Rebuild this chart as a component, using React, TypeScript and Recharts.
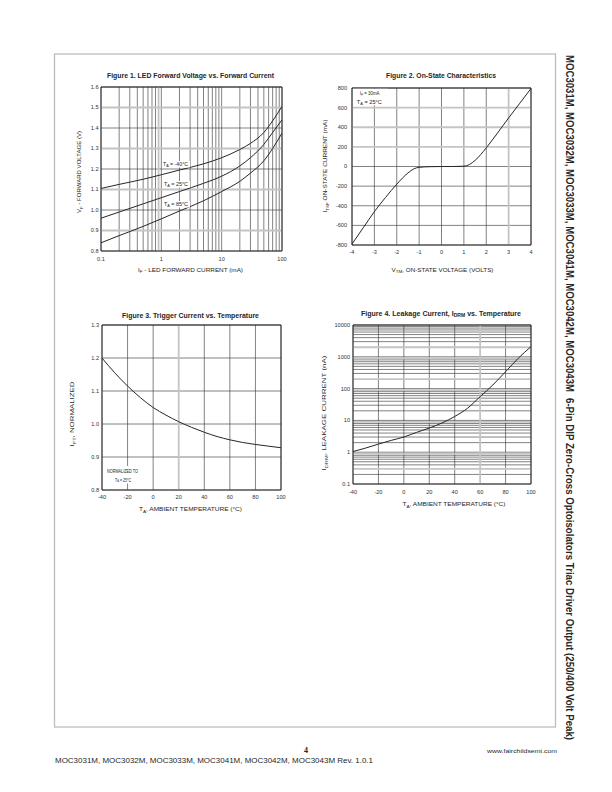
import React from 'react';
import { LineChart, Line, XAxis, YAxis, ReferenceLine } from 'recharts';

const FONT = '"Liberation Sans", Arial, Helvetica, sans-serif';
const INK = '#262626';
const GRID_DARK = '#3e3e3e';
const GRID_GRAY = '#c4c4c4';

// Figure 1: LED forward voltage vs. forward current (mA -> V)
const fig1Current = [0.1, 0.2, 0.5, 1, 2, 5, 10, 20, 30, 50, 70, 100];
const fig1VfCold = [1.105, 1.125, 1.15, 1.172, 1.195, 1.225, 1.255, 1.295, 1.325, 1.378, 1.435, 1.505];
const fig1VfRoom = [0.96, 0.99, 1.03, 1.06, 1.09, 1.13, 1.165, 1.215, 1.255, 1.32, 1.378, 1.44];
const fig1VfHot = [0.84, 0.875, 0.92, 0.957, 0.995, 1.045, 1.09, 1.14, 1.18, 1.24, 1.3, 1.375];
const fig1XTicks = [0.1, 1, 10, 100];
const fig1YTicks = [0.8, 0.9, 1.0, 1.1, 1.2, 1.3, 1.4, 1.5, 1.6];

// Figure 2: on-state characteristics (V -> mA)
const fig2Voltage = [-4, -3.5, -3, -2.5, -2, -1.5, -1.25, -1, -0.5, 0, 0.5, 1, 1.25, 1.5, 2, 2.5, 3, 3.5, 4];
const fig2Current = [-790, -625, -460, -315, -180, -66, -26, -8, -2, 0, 0, 3, 20, 62, 190, 340, 495, 645, 795];
const fig2XTicks = [-4, -3, -2, -1, 0, 1, 2, 3, 4];
const fig2YTicks = [-800, -600, -400, -200, 0, 200, 400, 600, 800];

// Figure 3: trigger current vs. temperature
const fig3Temp = [-40, -30, -20, -10, 0, 10, 20, 30, 40, 50, 60, 70, 80, 90, 100];
const fig3Ift = [1.2, 1.155, 1.115, 1.08, 1.05, 1.027, 1.007, 0.99, 0.975, 0.962, 0.952, 0.944, 0.938, 0.933, 0.928];
const fig3XTicks = [-40, -20, 0, 20, 40, 60, 80, 100];
const fig3YTicks = [0.8, 0.9, 1.0, 1.1, 1.2, 1.3];

// Figure 4: leakage current vs. temperature (nA)
const fig4Temp = [-40, -30, -20, -10, 0, 10, 20, 30, 40, 50, 60, 70, 80, 90, 100];
const fig4Idrm = [1.05, 1.35, 1.8, 2.35, 3.0, 4.2, 5.75, 8.3, 13.3, 24, 56, 130, 340, 900, 2100];
const fig4XTicks = [-40, -20, 0, 20, 40, 60, 80, 100];
const fig4YTicks = [0.1, 1, 10, 100, 1000, 10000];

const fig1Data = fig1Current.map((x, i) => ({ x, cold: fig1VfCold[i], room: fig1VfRoom[i], hot: fig1VfHot[i] }));
const fig2Data = fig2Voltage.map((x, i) => ({ x, y: fig2Current[i] }));
const fig3Data = fig3Temp.map((x, i) => ({ x, y: fig3Ift[i] }));
const fig4Data = fig4Temp.map((x, i) => ({ x, y: fig4Idrm[i] }));

// minor grid values for log axes: 1..9 per decade
const logGrid = (lo: number, hi: number) => {
  const out: number[] = [];
  for (let d = lo; d < hi; d *= 10) for (let m = 1; m < 10; m++) out.push(Number((m * d).toPrecision(2)));
  out.push(hi);
  return out;
};

type Plot = { l: number; r: number; t: number; b: number };
const PAD = { left: 40, top: 30, right: 20, bottom: 30 };

function grid(xs: number[], ys: number[], grayXs: number[] = [], grayYs: number[] = []) {
  const out: React.ReactElement[] = [];
  xs.filter((v) => !grayXs.includes(v)).forEach((v) =>
    out.push(<ReferenceLine key={`x${v}`} x={v} stroke={GRID_DARK} strokeWidth={0.65} />));
  ys.filter((v) => !grayYs.includes(v)).forEach((v) =>
    out.push(<ReferenceLine key={`y${v}`} y={v} stroke={GRID_DARK} strokeWidth={0.65} />));
  grayXs.forEach((v) => out.push(<ReferenceLine key={`gx${v}`} x={v} stroke={GRID_GRAY} strokeWidth={1.8} />));
  grayYs.forEach((v) => out.push(<ReferenceLine key={`gy${v}`} y={v} stroke={GRID_GRAY} strokeWidth={1.8} />));
  return out;
}

function border(x: [number, number], y: [number, number]) {
  return [
    <ReferenceLine key="bl" x={x[0]} stroke={INK} strokeWidth={0.9} />,
    <ReferenceLine key="br" x={x[1]} stroke={INK} strokeWidth={0.9} />,
    <ReferenceLine key="bb" y={y[0]} stroke={INK} strokeWidth={0.9} />,
    <ReferenceLine key="bt" y={y[1]} stroke={INK} strokeWidth={1.1} />,
  ];
}

const tick = { fontSize: 5.6, fill: '#333', fontFamily: FONT };

function Box({ plot, data, children }: { plot: Plot; data: any[]; children: React.ReactNode }) {
  const width = plot.r - plot.l + PAD.left + PAD.right;
  const height = plot.b - plot.t + PAD.top + PAD.bottom;
  return (
    <div style={{ position: 'absolute', left: plot.l - PAD.left, top: plot.t - PAD.top }}>
      <LineChart width={width} height={height} data={data} margin={{ top: PAD.top, right: PAD.right, bottom: 0, left: 0 }}>
        {children}
      </LineChart>
    </div>
  );
}

const P1: Plot = { l: 101, r: 282, t: 87, b: 251 };
const P2: Plot = { l: 352, r: 531, t: 88, b: 245 };
const P3: Plot = { l: 102, r: 281, t: 325, b: 490 };
const P4: Plot = { l: 353, r: 531, t: 325, b: 484 };

const fmt1 = (v: number) => v.toFixed(1);
const fmtPlain = (v: number) => String(v);

function T({ x, y, size, w, bold, rot, anchor = 'middle', family = FONT, children }: any) {
  return (
    <text
      x={x}
      y={y}
      fontSize={size}
      fontWeight={bold ? 'bold' : 'normal'}
      textAnchor={anchor}
      dominantBaseline="central"
      textLength={w}
      lengthAdjust={w ? 'spacingAndGlyphs' : undefined}
      transform={rot ? `rotate(${rot} ${x} ${y})` : undefined}
      fill={INK}
      fontFamily={family}
    >
      {children}
    </text>
  );
}

// text with one subscript: main + sub + rest
const sub = (size: number, main: string, s: string, rest: string) => [
  <tspan key="a">{main}</tspan>,
  <tspan key="b" fontSize={size * 0.72} dy={size * 0.3}>{s}</tspan>,
  <tspan key="c" dy={-size * 0.3}>{rest}</tspan>,
];

const BANNER_FONT = '"Liberation Sans Narrow", "Arial Narrow", "Liberation Sans", Arial, sans-serif';

export default function App() {
  return (
    <div style={{ position: 'absolute', left: 0, top: 0, width: 612, height: 792, background: '#fff' }}>
      <Box plot={P1} data={fig1Data}>
        <XAxis dataKey="x" type="number" scale="log" domain={[0.1, 100]} ticks={fig1XTicks} interval={0}
          allowDataOverflow tickLine={false} axisLine={false} tickSize={6.3} tickMargin={0} height={PAD.bottom}
          tick={tick} tickFormatter={fmtPlain} />
        <YAxis type="number" domain={[0.8, 1.6]} ticks={fig1YTicks} interval={0} allowDataOverflow
          tickLine={false} axisLine={false} tickSize={2.5} tickMargin={0} width={PAD.left} tick={tick} tickFormatter={fmt1} />
        {grid(logGrid(0.1, 100), fig1YTicks, [0.9], [1.5, 1.3, 1.1, 0.9])}
        {border([0.1, 100], [0.8, 1.6])}
        <Line dataKey="cold" type="monotone" stroke={INK} strokeWidth={1} dot={false} isAnimationActive={false} />
        <Line dataKey="room" type="monotone" stroke={INK} strokeWidth={1} dot={false} isAnimationActive={false} />
        <Line dataKey="hot" type="monotone" stroke={INK} strokeWidth={1} dot={false} isAnimationActive={false} />
      </Box>

      <Box plot={P2} data={fig2Data}>
        <XAxis dataKey="x" type="number" domain={[-4, 4]} ticks={fig2XTicks} interval={0} allowDataOverflow
          tickLine={false} axisLine={false} tickSize={5.4} tickMargin={0} height={PAD.bottom} tick={tick} />
        <YAxis type="number" domain={[-800, 800]} ticks={fig2YTicks} interval={0} allowDataOverflow
          tickLine={false} axisLine={false} tickSize={5} tickMargin={0} width={PAD.left} tick={tick} />
        {grid(fig2XTicks, fig2YTicks, [3], [600, 400, 200])}
        {border([-4, 4], [-800, 800])}
        <Line dataKey="y" type="monotone" stroke={INK} strokeWidth={1} dot={false} isAnimationActive={false} />
      </Box>

      <Box plot={P3} data={fig3Data}>
        <XAxis dataKey="x" type="number" domain={[-40, 100]} ticks={fig3XTicks} interval={0} allowDataOverflow
          tickLine={false} axisLine={false} tickSize={4.7} tickMargin={0} height={PAD.bottom} tick={tick} />
        <YAxis type="number" domain={[0.8, 1.3]} ticks={fig3YTicks} interval={0} allowDataOverflow
          tickLine={false} axisLine={false} tickSize={3} tickMargin={0} width={PAD.left} tick={tick} tickFormatter={fmt1} />
        {grid(fig3XTicks, fig3YTicks, [20], [])}
        {border([-40, 100], [0.8, 1.3])}
        <Line dataKey="y" type="monotone" stroke={INK} strokeWidth={1} dot={false} isAnimationActive={false} />
      </Box>

      <Box plot={P4} data={fig4Data}>
        <XAxis dataKey="x" type="number" domain={[-40, 100]} ticks={fig4XTicks} interval={0} allowDataOverflow
          tickLine={false} axisLine={false} tickSize={6.4} tickMargin={0} height={PAD.bottom} tick={tick} />
        <YAxis type="number" scale="log" domain={[0.1, 10000]} ticks={fig4YTicks} interval={0} allowDataOverflow
          tickLine={false} axisLine={false} tickSize={3} tickMargin={0} width={PAD.left} tick={tick} tickFormatter={fmtPlain} />
        {grid(fig4XTicks, logGrid(0.1, 10000), [60], [2000, 900, 200, 90, 9, 0.9, 0.3])}
        {border([-40, 100], [0.1, 10000])}
        <Line dataKey="y" type="monotone" stroke={INK} strokeWidth={1} dot={false} isAnimationActive={false} />
      </Box>

      <svg width={612} height={792} style={{ position: 'absolute', left: 0, top: 0, pointerEvents: 'none' }}>
        <rect x={54.5} y={54} width={501} height={673} fill="none" stroke="#bdbdbd" strokeWidth={1.3} />

        {/* Figure 1 */}
        <T x={190.5} y={75} size={6.3} w={167} bold>Figure 1. LED Forward Voltage vs. Forward Current</T>
        <T x={190.5} y={269.5} size={5.8} w={105}>{sub(5.8, 'I', 'F', ' - LED FORWARD CURRENT (mA)')}</T>
        <T x={79} y={172} size={5.8} w={82} rot={-90}>{sub(5.8, 'V', 'F', ' - FORWARD VOLTAGE (V)')}</T>
        <rect x={162} y={161} width={28} height={6.5} fill="#fff" />
        <rect x={162} y={181} width={28} height={6.5} fill="#fff" />
        <rect x={162} y={201} width={28} height={6.5} fill="#fff" />
        <T x={163} y={164.3} size={4.8} w={25} anchor="start">{sub(4.8, 'T', 'A', ' = -40°C')}</T>
        <T x={164} y={184.3} size={4.8} w={24} anchor="start">{sub(4.8, 'T', 'A', ' = 25°C')}</T>
        <T x={164} y={204.3} size={4.8} w={24} anchor="start">{sub(4.8, 'T', 'A', ' = 85°C')}</T>

        {/* Figure 2 */}
        <T x={441} y={75} size={6.3} w={110} bold>Figure 2. On-State Characteristics</T>
        <T x={442.5} y={269.5} size={5.8} w={102}>{sub(5.8, 'V', 'TM', ', ON-STATE VOLTAGE (VOLTS)')}</T>
        <T x={325} y={166} size={5.8} w={93} rot={-90}>{sub(5.8, 'I', 'TM', ', ON-STATE CURRENT (mA)')}</T>
        <rect x={353} y={88.8} width={35} height={16.5} fill="#fff" />
        <T x={360} y={93.3} size={4.8} w={19.5} anchor="start">{sub(4.8, 'I', 'F', ' = 30mA')}</T>
        <T x={356.8} y={102.3} size={4.8} w={25} anchor="start">{sub(4.8, 'T', 'A', ' = 25°C')}</T>

        {/* Figure 3 */}
        <T x={190.5} y={315} size={6.3} w={137} bold>Figure 3. Trigger Current vs. Temperature</T>
        <T x={190.5} y={509} size={5.8} w={103}>{sub(5.8, 'T', 'A', ', AMBIENT TEMPERATURE (°C)')}</T>
        <T x={72} y={414} size={5.8} w={65} rot={-90}>{sub(5.8, 'I', 'FT', ', NORMALIZED')}</T>
        <rect x={104} y={466} width={37} height={17.5} fill="#fff" />
        <T x={107} y={471.5} size={4.6} w={31} anchor="start">NORMALIZED TO</T>
        <T x={115} y={479.5} size={4.6} w={16} anchor="start">{sub(4.6, 'T', 'A', ' = 25°C')}</T>

        {/* Figure 4 */}
        <T x={441} y={313} size={6.3} w={160} bold>{sub(6.3, 'Figure 4. Leakage Current, I', 'DRM', ' vs. Temperature')}</T>
        <T x={454} y={504} size={5.8} w={103}>{sub(5.8, 'T', 'A', ', AMBIENT TEMPERATURE (°C)')}</T>
        <T x={324} y={413} size={5.8} w={115} rot={-90}>{sub(5.8, 'I', 'DRM', ', LEAKAGE CURRENT (nA)')}</T>

        {/* side banner, in two runs */}
        <text x={566} y={55} fontSize={10.5} fontWeight="bold" fill={INK} fontFamily={BANNER_FONT}
          textLength={337} lengthAdjust="spacingAndGlyphs" transform="rotate(90 566 55)">
          MOC3031M, MOC3032M, MOC3033M, MOC3041M, MOC3042M, MOC3043M
        </text>
        <text x={566} y={398} fontSize={10.5} fontWeight="bold" fill={INK} fontFamily={BANNER_FONT}
          textLength={342} lengthAdjust="spacingAndGlyphs" transform="rotate(90 566 398)">
          6-Pin DIP Zero-Cross Optoisolators Triac Driver Output (250/400 Volt Peak)
        </text>

        {/* footer */}
        <T x={306} y={750.5} size={8} family='"Liberation Serif", "Times New Roman", serif' bold>4</T>
        <T x={55} y={760} size={7.4} w={318} anchor="start">MOC3031M, MOC3032M, MOC3033M, MOC3041M, MOC3042M, MOC3043M Rev. 1.0.1</T>
        <T x={487} y={751} size={6} w={70} anchor="start">www.fairchildsemi.com</T>
      </svg>
    </div>
  );
}
